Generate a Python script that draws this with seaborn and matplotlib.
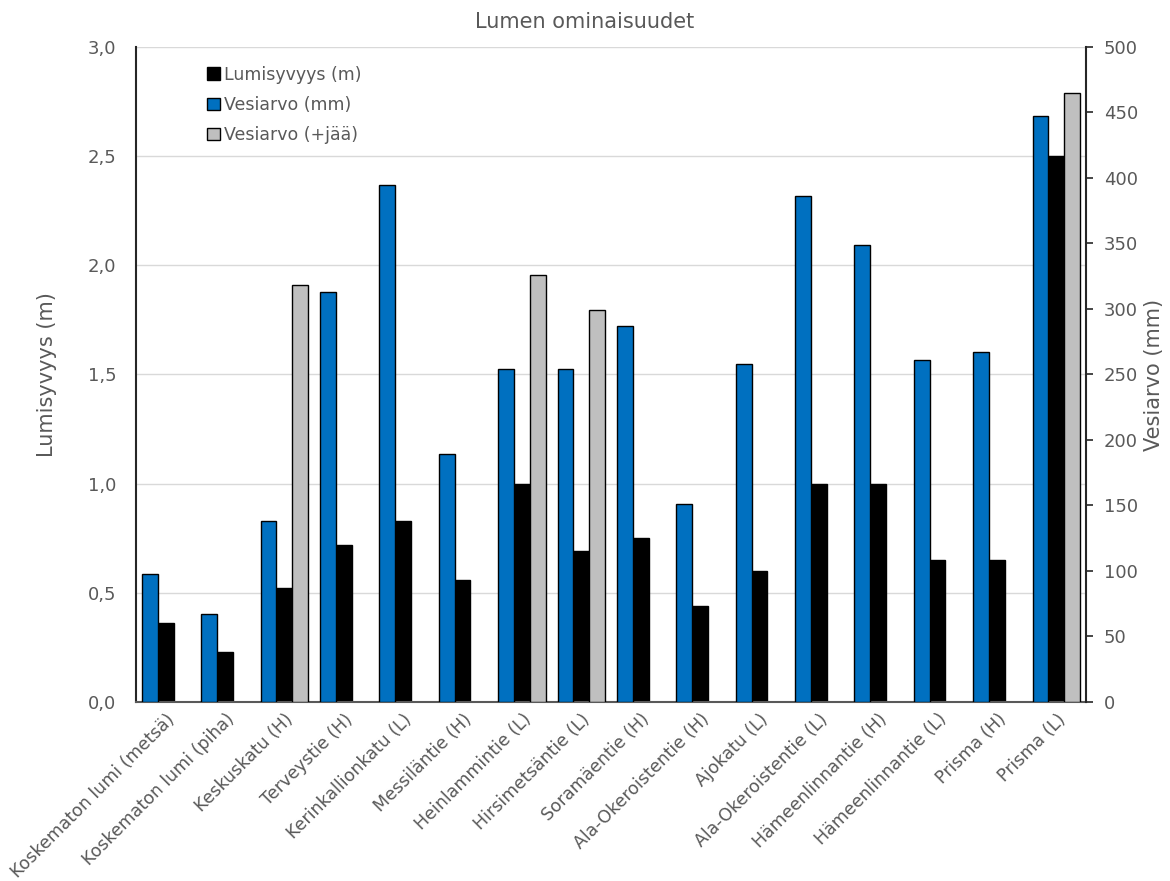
import numpy as np
import pandas as pd
import matplotlib
matplotlib.use("Agg")
import matplotlib.pyplot as plt
from matplotlib.patches import Patch
from matplotlib.ticker import FuncFormatter, MultipleLocator
import seaborn as sns

# Measurement sites
categories = [
    "Koskematon lumi (metsä)", "Koskematon lumi (piha)", "Keskuskatu (H)",
    "Terveystie (H)", "Kerinkallionkatu (L)", "Messiläntie (H)",
    "Heinlammintie (L)", "Hirsimetsäntie (L)", "Soramäentie (H)",
    "Ala-Okeroistentie (H)", "Ajokatu (L)", "Ala-Okeroistentie (L)",
    "Hämeenlinnantie (H)", "Hämeenlinnantie (L)", "Prisma (H)", "Prisma (L)",
]
# Snow depth (m)
lumisyvyys = [0.36, 0.23, 0.52, 0.72, 0.83, 0.56, 1.00, 0.69,
              0.75, 0.44, 0.60, 1.00, 1.00, 0.65, 0.65, 2.50]
# Water equivalent (mm)
vesiarvo = [98, 67, 138, 313, 395, 189, 254, 254,
            287, 151, 258, 386, 349, 261, 267, 447]
# Water equivalent including ice (mm), measured only at some sites
vesiarvo_jaa = [np.nan, np.nan, 318, np.nan, np.nan, np.nan, 326, 299,
                np.nan, np.nan, np.nan, np.nan, np.nan, np.nan, np.nan, 465]

legend_order = ["Lumisyvyys (m)", "Vesiarvo (mm)", "Vesiarvo (+jää)"]
colors = {"Vesiarvo (mm)": "#0070C0", "Lumisyvyys (m)": "#000000",
          "Vesiarvo (+jää)": "#BFBFBF"}

group_width = 0.8
bar_w = group_width / 3
idx = np.arange(len(categories))

def series_frame(values, slot):
    d = pd.DataFrame({"pos": idx + slot * bar_w, "arvo": values})
    return d.dropna()

df_depth = series_frame(lumisyvyys, 0)
df_water = series_frame(vesiarvo, -1)
df_ice = series_frame(vesiarvo_jaa, 1)

sns.set_style("white")
plt.rcParams["font.family"] = ["DejaVu Sans"]
text_color = "#595959"

fig = plt.figure(figsize=(11.7, 8.81), dpi=100)
ax = fig.add_axes([0.1162, 0.2032, 0.812, 0.7435])
ax2 = ax.twinx()

bar_kw = dict(native_scale=True, width=bar_w, edgecolor="black",
              linewidth=1.0, saturation=1, errorbar=None)
# Snow depth on the left axis (middle of each group)
sns.barplot(data=df_depth, x="pos", y="arvo", color=colors["Lumisyvyys (m)"],
            ax=ax, **bar_kw)
# Water equivalents on the right axis (left and right of each group)
sns.barplot(data=df_water, x="pos", y="arvo", color=colors["Vesiarvo (mm)"],
            ax=ax2, **bar_kw)
sns.barplot(data=df_ice, x="pos", y="arvo", color=colors["Vesiarvo (+jää)"],
            ax=ax2, **bar_kw)

ax.set_ylim(0, 3.0)
ax2.set_ylim(0, 500)
ax.set_xlim(-0.5, len(categories) - 0.5)
ax.yaxis.set_major_locator(MultipleLocator(0.5))
ax2.yaxis.set_major_locator(MultipleLocator(50))
ax.yaxis.set_major_formatter(FuncFormatter(lambda v, p: f"{v:.1f}".replace(".", ",")))
ax2.yaxis.set_major_formatter(FuncFormatter(lambda v, p: f"{v:.0f}"))

ax.grid(axis="y", color="#D9D9D9", linewidth=1.0)
ax.grid(axis="x", visible=False)
ax.set_axisbelow(True)
ax2.grid(False)

for a in (ax, ax2):
    a.spines["top"].set_visible(False)
ax.spines["left"].set_color("#262626")
ax.spines["left"].set_linewidth(1.5)
ax.spines["right"].set_visible(False)
ax.spines["bottom"].set_color("#595959")
ax.spines["bottom"].set_linewidth(1.5)
ax2.spines["left"].set_visible(False)
ax2.spines["bottom"].set_visible(False)
ax2.spines["right"].set_color("#262626")
ax2.spines["right"].set_linewidth(1.5)

ax.set_xticks(idx)
ax.set_xticklabels(categories, rotation=45, ha="right", rotation_mode="anchor")
ax.tick_params(axis="y", length=0, pad=14, labelsize=13, labelcolor=text_color)
ax2.tick_params(axis="y", length=5, width=1.2, color="#262626", pad=8,
                labelsize=13, labelcolor=text_color, right=True)
ax.tick_params(axis="x", length=0, pad=6, labelsize=12.5, labelcolor=text_color)

ax.set_xlabel("")
ax2.set_xlabel("")
ax.set_ylabel("Lumisyvyys (m)", fontsize=15, color=text_color, labelpad=22)
ax2.set_ylabel("Vesiarvo (mm)", fontsize=15, color=text_color, labelpad=4)

fig.text(0.5, 0.975, "Lumen ominaisuudet", ha="center", va="center",
         fontsize=15, color=text_color)

handles = [Patch(facecolor=colors[n], edgecolor="black", linewidth=1.0)
           for n in legend_order]
leg = ax2.legend(handles, legend_order, loc="upper left",
                 bbox_to_anchor=(0.058, 0.995), frameon=False,
                 handlelength=0.75, handleheight=0.75, handletextpad=0.25,
                 labelspacing=0.7, fontsize=12.5)
for t in leg.get_texts():
    t.set_color(text_color)

fig.savefig("out.png", dpi=100)
